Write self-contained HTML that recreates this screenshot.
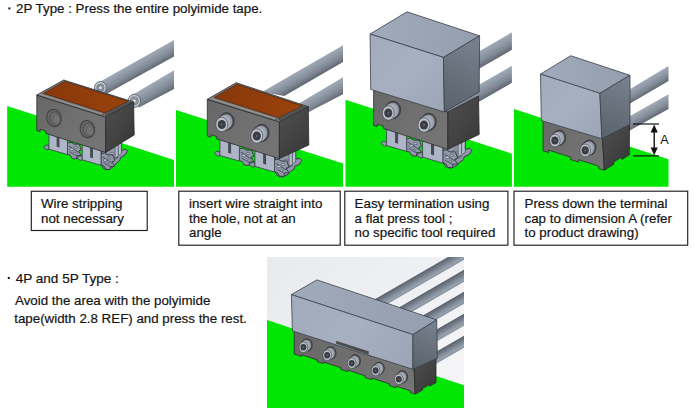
<!DOCTYPE html>
<html><head><meta charset="utf-8"><title>Wire termination</title>
<style>
html,body{margin:0;padding:0;background:#fff;}
body{width:694px;height:408px;overflow:hidden;font-family:"Liberation Sans",sans-serif;}
svg{display:block;font-family:"Liberation Sans",sans-serif;}
</style></head><body>
<svg width="694" height="408" viewBox="0 0 694 408">
<defs><linearGradient id="g1" gradientUnits="userSpaceOnUse" x1="174.0" y1="39.9" x2="181.1" y2="52.5"><stop offset="0" stop-color="#a0a9b5"/><stop offset="0.3" stop-color="#929ba8"/><stop offset="0.65" stop-color="#7f8894"/><stop offset="1" stop-color="#606872"/></linearGradient><linearGradient id="g2" gradientUnits="userSpaceOnUse" x1="174.0" y1="70.3" x2="182.2" y2="84.1"><stop offset="0" stop-color="#a0a9b5"/><stop offset="0.3" stop-color="#929ba8"/><stop offset="0.65" stop-color="#7f8894"/><stop offset="1" stop-color="#606872"/></linearGradient><linearGradient id="g3" gradientUnits="userSpaceOnUse" x1="36.8" y1="95.0" x2="105.7" y2="152.5"><stop offset="0" stop-color="#676767"/><stop offset="0.5" stop-color="#707070"/><stop offset="1" stop-color="#757575"/></linearGradient><linearGradient id="g4" gradientUnits="userSpaceOnUse" x1="105.7" y1="117.0" x2="134.2" y2="135.0"><stop offset="0" stop-color="#4b4b4b"/><stop offset="0.6" stop-color="#424242"/><stop offset="1" stop-color="#3a3a3a"/></linearGradient><linearGradient id="g5" gradientUnits="userSpaceOnUse" x1="36.8" y1="95.0" x2="133.6" y2="102.0"><stop offset="0" stop-color="#86370a"/><stop offset="0.5" stop-color="#913d0b"/><stop offset="1" stop-color="#9a430e"/></linearGradient><linearGradient id="g6" gradientUnits="userSpaceOnUse" x1="343.0" y1="45.2" x2="350.2" y2="57.7"><stop offset="0" stop-color="#a0a9b5"/><stop offset="0.3" stop-color="#929ba8"/><stop offset="0.65" stop-color="#7f8894"/><stop offset="1" stop-color="#606872"/></linearGradient><linearGradient id="g7" gradientUnits="userSpaceOnUse" x1="343.0" y1="77.3" x2="350.4" y2="89.8"><stop offset="0" stop-color="#a0a9b5"/><stop offset="0.3" stop-color="#929ba8"/><stop offset="0.65" stop-color="#7f8894"/><stop offset="1" stop-color="#606872"/></linearGradient><linearGradient id="g8" gradientUnits="userSpaceOnUse" x1="207.3" y1="99.3" x2="279.4" y2="158.6"><stop offset="0" stop-color="#676767"/><stop offset="0.5" stop-color="#707070"/><stop offset="1" stop-color="#757575"/></linearGradient><linearGradient id="g9" gradientUnits="userSpaceOnUse" x1="279.4" y1="121.9" x2="308.8" y2="145.0"><stop offset="0" stop-color="#4b4b4b"/><stop offset="0.6" stop-color="#424242"/><stop offset="1" stop-color="#3a3a3a"/></linearGradient><linearGradient id="g10" gradientUnits="userSpaceOnUse" x1="207.3" y1="99.3" x2="308.3" y2="106.7"><stop offset="0" stop-color="#86370a"/><stop offset="0.5" stop-color="#913d0b"/><stop offset="1" stop-color="#9a430e"/></linearGradient><linearGradient id="g11" gradientUnits="userSpaceOnUse" x1="511.9" y1="32.3" x2="519.5" y2="45.4"><stop offset="0" stop-color="#a0a9b5"/><stop offset="0.3" stop-color="#929ba8"/><stop offset="0.65" stop-color="#7f8894"/><stop offset="1" stop-color="#606872"/></linearGradient><linearGradient id="g12" gradientUnits="userSpaceOnUse" x1="511.9" y1="65.8" x2="519.2" y2="78.6"><stop offset="0" stop-color="#a0a9b5"/><stop offset="0.3" stop-color="#929ba8"/><stop offset="0.65" stop-color="#7f8894"/><stop offset="1" stop-color="#606872"/></linearGradient><linearGradient id="g13" gradientUnits="userSpaceOnUse" x1="373.6" y1="88.0" x2="447.8" y2="149.3"><stop offset="0" stop-color="#676767"/><stop offset="0.5" stop-color="#707070"/><stop offset="1" stop-color="#757575"/></linearGradient><linearGradient id="g14" gradientUnits="userSpaceOnUse" x1="447.8" y1="112.0" x2="479.2" y2="134.4"><stop offset="0" stop-color="#4b4b4b"/><stop offset="0.6" stop-color="#424242"/><stop offset="1" stop-color="#3a3a3a"/></linearGradient><linearGradient id="g15" gradientUnits="userSpaceOnUse" x1="370.1" y1="34.0" x2="479.6" y2="35.8"><stop offset="0" stop-color="#a0aaba"/><stop offset="1" stop-color="#949eaf"/></linearGradient><linearGradient id="g16" gradientUnits="userSpaceOnUse" x1="370.1" y1="34.0" x2="444.4" y2="112.0"><stop offset="0" stop-color="#a1abbb"/><stop offset="0.5" stop-color="#a6b0c0"/><stop offset="1" stop-color="#9ba5b5"/></linearGradient><linearGradient id="g17" gradientUnits="userSpaceOnUse" x1="444.4" y1="112.0" x2="479.6" y2="35.8"><stop offset="0" stop-color="#5a626c"/><stop offset="0.5" stop-color="#69717d"/><stop offset="1" stop-color="#7a8390"/></linearGradient><linearGradient id="g18" gradientUnits="userSpaceOnUse" x1="668.5" y1="66.0" x2="675.1" y2="77.0"><stop offset="0" stop-color="#a0a9b5"/><stop offset="0.3" stop-color="#929ba8"/><stop offset="0.65" stop-color="#7f8894"/><stop offset="1" stop-color="#606872"/></linearGradient><linearGradient id="g19" gradientUnits="userSpaceOnUse" x1="668.5" y1="94.2" x2="674.8" y2="105.3"><stop offset="0" stop-color="#a0a9b5"/><stop offset="0.3" stop-color="#929ba8"/><stop offset="0.65" stop-color="#7f8894"/><stop offset="1" stop-color="#606872"/></linearGradient><linearGradient id="g20" gradientUnits="userSpaceOnUse" x1="543.0" y1="118.0" x2="604.3" y2="170.2"><stop offset="0" stop-color="#676767"/><stop offset="0.5" stop-color="#707070"/><stop offset="1" stop-color="#757575"/></linearGradient><linearGradient id="g21" gradientUnits="userSpaceOnUse" x1="602.5" y1="137.0" x2="629.3" y2="154.8"><stop offset="0" stop-color="#4b4b4b"/><stop offset="0.6" stop-color="#424242"/><stop offset="1" stop-color="#3a3a3a"/></linearGradient><linearGradient id="g22" gradientUnits="userSpaceOnUse" x1="540.5" y1="74.1" x2="630.0" y2="75.3"><stop offset="0" stop-color="#a0aaba"/><stop offset="1" stop-color="#949eaf"/></linearGradient><linearGradient id="g23" gradientUnits="userSpaceOnUse" x1="540.5" y1="74.1" x2="601.9" y2="138.8"><stop offset="0" stop-color="#a1abbb"/><stop offset="0.5" stop-color="#a6b0c0"/><stop offset="1" stop-color="#9ba5b5"/></linearGradient><linearGradient id="g24" gradientUnits="userSpaceOnUse" x1="601.9" y1="138.8" x2="630.0" y2="75.3"><stop offset="0" stop-color="#5a626c"/><stop offset="0.5" stop-color="#69717d"/><stop offset="1" stop-color="#7a8390"/></linearGradient><linearGradient id="g25" gradientUnits="userSpaceOnUse" x1="267.0" y1="257.0" x2="464.0" y2="408.0"><stop offset="0" stop-color="#e8eaee"/><stop offset="0.6" stop-color="#f0f1f4"/><stop offset="1" stop-color="#f7f7f9"/></linearGradient><linearGradient id="g26" gradientUnits="userSpaceOnUse" x1="464.0" y1="247.8" x2="469.2" y2="256.8"><stop offset="0" stop-color="#59616c"/><stop offset="0.4" stop-color="#78818d"/><stop offset="0.8" stop-color="#98a2af"/><stop offset="1" stop-color="#878f9b"/></linearGradient><linearGradient id="g27" gradientUnits="userSpaceOnUse" x1="464.0" y1="269.8" x2="469.2" y2="278.8"><stop offset="0" stop-color="#59616c"/><stop offset="0.4" stop-color="#78818d"/><stop offset="0.8" stop-color="#98a2af"/><stop offset="1" stop-color="#878f9b"/></linearGradient><linearGradient id="g28" gradientUnits="userSpaceOnUse" x1="464.0" y1="291.8" x2="469.2" y2="300.8"><stop offset="0" stop-color="#59616c"/><stop offset="0.4" stop-color="#78818d"/><stop offset="0.8" stop-color="#98a2af"/><stop offset="1" stop-color="#878f9b"/></linearGradient><linearGradient id="g29" gradientUnits="userSpaceOnUse" x1="464.0" y1="313.8" x2="469.2" y2="322.8"><stop offset="0" stop-color="#59616c"/><stop offset="0.4" stop-color="#78818d"/><stop offset="0.8" stop-color="#98a2af"/><stop offset="1" stop-color="#878f9b"/></linearGradient><linearGradient id="g30" gradientUnits="userSpaceOnUse" x1="464.0" y1="335.8" x2="469.2" y2="344.8"><stop offset="0" stop-color="#59616c"/><stop offset="0.4" stop-color="#78818d"/><stop offset="0.8" stop-color="#98a2af"/><stop offset="1" stop-color="#878f9b"/></linearGradient><linearGradient id="g31" gradientUnits="userSpaceOnUse" x1="294.2" y1="330.0" x2="415.2" y2="394.1"><stop offset="0" stop-color="#676767"/><stop offset="0.5" stop-color="#707070"/><stop offset="1" stop-color="#757575"/></linearGradient><linearGradient id="g32" gradientUnits="userSpaceOnUse" x1="414.0" y1="366.0" x2="436.0" y2="382.6"><stop offset="0" stop-color="#4b4b4b"/><stop offset="0.6" stop-color="#424242"/><stop offset="1" stop-color="#3a3a3a"/></linearGradient><linearGradient id="g33" gradientUnits="userSpaceOnUse" x1="291.4" y1="294.6" x2="436.7" y2="319.9"><stop offset="0" stop-color="#a0aaba"/><stop offset="1" stop-color="#949eaf"/></linearGradient><linearGradient id="g34" gradientUnits="userSpaceOnUse" x1="291.4" y1="294.6" x2="412.9" y2="369.3"><stop offset="0" stop-color="#a1abbb"/><stop offset="0.5" stop-color="#a6b0c0"/><stop offset="1" stop-color="#9ba5b5"/></linearGradient><linearGradient id="g35" gradientUnits="userSpaceOnUse" x1="412.9" y1="369.3" x2="436.7" y2="319.9"><stop offset="0" stop-color="#5a626c"/><stop offset="0.5" stop-color="#69717d"/><stop offset="1" stop-color="#7a8390"/></linearGradient></defs>
<polygon points="7.2,106.0 174.0,160.0 174.0,186.7 7.2,186.7" fill="#01e703"/>
<polygon points="95.9,84.0 174.0,39.9 174.0,56.5 106.7,93.8" fill="url(#g1)"/>
<polygon points="129.2,96.8 174.0,70.3 174.0,88.9 139.0,107.5" fill="url(#g2)"/>
<ellipse cx="100.4" cy="87.8" rx="6.00" ry="6.30" fill="#bec6d2" stroke="#4a4e56" stroke-width="0.7"/>
<ellipse cx="100.4" cy="87.8" rx="3.72" ry="3.84" fill="#9098a6" stroke="#5a5e66" stroke-width="0.5"/>
<ellipse cx="100.4" cy="87.8" rx="1.80" ry="1.80" fill="#dde1e8" stroke="#50545c" stroke-width="0.4"/>
<ellipse cx="134.3" cy="100.9" rx="6.30" ry="6.62" fill="#bec6d2" stroke="#4a4e56" stroke-width="0.7"/>
<ellipse cx="134.3" cy="100.9" rx="3.91" ry="4.03" fill="#9098a6" stroke="#5a5e66" stroke-width="0.5"/>
<ellipse cx="134.3" cy="100.9" rx="1.89" ry="1.89" fill="#dde1e8" stroke="#50545c" stroke-width="0.4"/>
<polygon points="101.6,148.2 105.7,149.5 121.4,139.9 121.7,150.6 125.6,149.0 127.4,150.8 125.1,155.0 120.5,157.5 119.9,160.3 116.0,163.4 114.2,166.2 109.1,169.4 105.7,169.7 103.6,168.5 101.6,165.2" fill="#8f97a8" stroke="#3a3e48" stroke-width="1.0" stroke-linejoin="round"/>
<polygon points="115.1,143.7 121.4,139.9 121.4,153.4 115.1,158.3" fill="#b6bece" stroke="#3a3e48" stroke-width="0.6" stroke-linejoin="round"/>
<line x1="118.2" y1="142.8" x2="118.2" y2="155.0" stroke="#4a505c" stroke-width="0.9"/>
<line x1="106.3" y1="157.4" x2="114.2" y2="158.1" stroke="#3a3e48" stroke-width="0.8"/>
<line x1="107.1" y1="164.8" x2="118.5" y2="156.9" stroke="#3a3e48" stroke-width="0.8"/>
<ellipse cx="110.0" cy="158.7" rx="2.01" ry="1.31" fill="#c4ccda" stroke="#3a3e48" stroke-width="0.6"/>
<ellipse cx="112.0" cy="153.6" rx="1.81" ry="1.10" fill="#c4ccda" stroke="#3a3e48" stroke-width="0.6"/>
<ellipse cx="109.7" cy="165.2" rx="1.61" ry="1.00" fill="#c0c8d6" stroke="#3a3e48" stroke-width="0.6"/>
<polygon points="67.5,142.9 70.9,142.3 74.4,144.2 79.2,144.0 81.2,150.0 78.5,151.2 81.2,155.2 77.1,155.7 76.4,159.0 72.3,158.5 70.2,155.2 67.5,154.0" fill="#8f97a8" stroke="#3a3e48" stroke-width="1.0" stroke-linejoin="round"/>
<line x1="68.8" y1="146.0" x2="78.5" y2="152.6" stroke="#3a3e48" stroke-width="0.8"/>
<line x1="69.5" y1="151.8" x2="77.1" y2="156.0" stroke="#3a3e48" stroke-width="0.7"/>
<ellipse cx="71.6" cy="149.3" rx="1.91" ry="1.21" fill="#c4ccda" stroke="#3a3e48" stroke-width="0.6"/>
<ellipse cx="75.7" cy="147.3" rx="1.61" ry="1.00" fill="#c4ccda" stroke="#3a3e48" stroke-width="0.6"/>
<ellipse cx="74.4" cy="153.4" rx="1.41" ry="0.90" fill="#c0c8d6" stroke="#3a3e48" stroke-width="0.6"/>
<polygon points="48.9,145.2 45.1,145.4 43.7,147.5 46.8,149.9 48.9,149.5" fill="#8f97a8" stroke="#3a3e48" stroke-width="0.8" stroke-linejoin="round"/>
<polygon points="48.9,131.3 67.5,137.3 67.5,154.6 48.9,149.2" fill="#adb5c7" stroke="#3a3e48" stroke-width="0.8" stroke-linejoin="round"/>
<polygon points="56.6,135.8 59.5,136.8 59.5,147.6 56.6,146.7" fill="#484c56"/>
<polygon points="101.0,153.6 104.5,153.0 107.9,155.0 112.7,154.7 114.8,160.7 112.0,161.9 114.8,166.0 110.7,166.4 110.0,169.7 105.8,169.2 103.8,165.9 101.0,164.7" fill="#8f97a8" stroke="#3a3e48" stroke-width="1.0" stroke-linejoin="round"/>
<line x1="102.4" y1="156.7" x2="112.0" y2="163.3" stroke="#3a3e48" stroke-width="0.8"/>
<line x1="103.1" y1="162.6" x2="110.7" y2="166.7" stroke="#3a3e48" stroke-width="0.7"/>
<ellipse cx="105.1" cy="160.1" rx="1.91" ry="1.21" fill="#c4ccda" stroke="#3a3e48" stroke-width="0.6"/>
<ellipse cx="109.3" cy="158.0" rx="1.61" ry="1.00" fill="#c4ccda" stroke="#3a3e48" stroke-width="0.6"/>
<ellipse cx="107.9" cy="164.1" rx="1.41" ry="0.90" fill="#c0c8d6" stroke="#3a3e48" stroke-width="0.6"/>
<polygon points="82.3,155.9 78.5,156.1 77.1,158.1 80.2,160.5 82.3,160.1" fill="#8f97a8" stroke="#3a3e48" stroke-width="0.8" stroke-linejoin="round"/>
<polygon points="82.3,142.0 101.0,148.0 101.0,165.3 82.3,159.9" fill="#adb5c7" stroke="#3a3e48" stroke-width="0.8" stroke-linejoin="round"/>
<polygon points="90.1,146.5 93.0,147.5 93.0,158.3 90.1,157.4" fill="#484c56"/>
<polygon points="36.8,95.0 105.7,117.0 105.7,152.5 45.8,133.4 45.8,131.0 40.2,129.2 40.2,131.6 36.8,130.5" fill="url(#g3)" stroke="#2c2c2c" stroke-width="0.8" stroke-linejoin="round"/>
<polygon points="105.7,117.0 133.6,102.0 134.2,135.0 105.7,152.5" fill="url(#g4)" stroke="#2a2a2a" stroke-width="0.8" stroke-linejoin="round"/>
<polygon points="36.8,95.0 63.7,80.0 133.6,102.0 105.7,117.0" fill="#7c7c7c" stroke="#2c2c2c" stroke-width="0.8" stroke-linejoin="round"/>
<line x1="38.7" y1="94.0" x2="102.8" y2="114.4" stroke="#9c9c9c" stroke-width="0.9"/>
<polygon points="43.5,93.4 64.5,81.4 127.9,101.2 105.0,112.9" fill="url(#g5)" stroke="#4a2008" stroke-width="0.7" stroke-linejoin="round"/>
<polygon points="104.7,114.3 128.5,102.1 131.5,102.5 106.7,115.9" fill="#585858" stroke="#2a2a2a" stroke-width="0.5" stroke-linejoin="round"/>
<line x1="100.9" y1="115.5" x2="103.9" y2="113.8" stroke="#2a2a2a" stroke-width="0.6"/>
<ellipse cx="54.0" cy="118.0" rx="7.30" ry="8.80" fill="#646464" stroke="#414141" stroke-width="1.0" transform="rotate(-12 54.0 118.0)"/>
<ellipse cx="55.3" cy="118.6" rx="5.40" ry="6.86" fill="#6b6b6b" stroke="#4a4a4a" stroke-width="0.8" transform="rotate(-12 55.3 118.6)"/>
<ellipse cx="56.6" cy="119.4" rx="3.50" ry="4.93" fill="#727272" stroke="#565656" stroke-width="0.6" transform="rotate(-12 56.6 119.4)"/>
<ellipse cx="87.4" cy="129.2" rx="7.30" ry="8.80" fill="#646464" stroke="#414141" stroke-width="1.0" transform="rotate(-12 87.4 129.2)"/>
<ellipse cx="88.7" cy="129.8" rx="5.40" ry="6.86" fill="#6b6b6b" stroke="#4a4a4a" stroke-width="0.8" transform="rotate(-12 88.7 129.8)"/>
<ellipse cx="90.0" cy="130.6" rx="3.50" ry="4.93" fill="#727272" stroke="#565656" stroke-width="0.6" transform="rotate(-12 90.0 130.6)"/>
<polygon points="176.0,110.0 343.0,163.5 343.0,186.7 176.0,186.7" fill="#01e703"/>
<polygon points="262.0,92.0 343.0,45.2 343.0,61.9 284.3,96.0" fill="url(#g6)"/>
<polygon points="298.0,104.0 343.0,77.3 343.0,94.2 308.8,112.0" fill="url(#g7)"/>
<polygon points="275.1,154.2 279.4,155.6 295.6,148.1 295.9,159.2 300.0,158.3 301.7,160.4 299.4,164.4 294.7,166.2 294.1,169.1 290.0,171.7 288.2,174.4 282.9,176.8 279.4,176.6 277.2,175.4 275.1,171.9" fill="#8f97a8" stroke="#3a3e48" stroke-width="1.0" stroke-linejoin="round"/>
<polygon points="289.1,151.1 295.6,148.1 295.6,162.1 289.1,166.2" fill="#b6bece" stroke="#3a3e48" stroke-width="0.6" stroke-linejoin="round"/>
<line x1="292.3" y1="150.6" x2="292.3" y2="163.3" stroke="#4a505c" stroke-width="0.9"/>
<line x1="280.0" y1="163.8" x2="288.2" y2="165.9" stroke="#3a3e48" stroke-width="0.8"/>
<line x1="280.9" y1="171.7" x2="292.6" y2="165.3" stroke="#3a3e48" stroke-width="0.8"/>
<ellipse cx="283.8" cy="165.7" rx="2.10" ry="1.36" fill="#c4ccda" stroke="#3a3e48" stroke-width="0.6"/>
<ellipse cx="285.9" cy="160.8" rx="1.89" ry="1.15" fill="#c4ccda" stroke="#3a3e48" stroke-width="0.6"/>
<ellipse cx="283.5" cy="172.5" rx="1.68" ry="1.05" fill="#c0c8d6" stroke="#3a3e48" stroke-width="0.6"/>
<polygon points="239.4,148.8 243.0,148.1 246.6,150.2 251.6,149.9 253.8,156.1 250.9,157.4 253.8,161.6 249.5,162.1 248.8,165.5 244.4,165.1 242.3,161.7 239.4,160.4" fill="#8f97a8" stroke="#3a3e48" stroke-width="1.0" stroke-linejoin="round"/>
<line x1="240.8" y1="152.0" x2="250.9" y2="158.9" stroke="#3a3e48" stroke-width="0.8"/>
<line x1="241.5" y1="158.1" x2="249.5" y2="162.4" stroke="#3a3e48" stroke-width="0.7"/>
<ellipse cx="243.7" cy="155.5" rx="1.99" ry="1.26" fill="#c4ccda" stroke="#3a3e48" stroke-width="0.6"/>
<ellipse cx="248.0" cy="153.4" rx="1.68" ry="1.05" fill="#c4ccda" stroke="#3a3e48" stroke-width="0.6"/>
<ellipse cx="246.6" cy="159.7" rx="1.47" ry="0.94" fill="#c0c8d6" stroke="#3a3e48" stroke-width="0.6"/>
<polygon points="219.9,151.3 216.0,151.6 214.5,153.7 217.8,156.2 219.9,155.7" fill="#8f97a8" stroke="#3a3e48" stroke-width="0.8" stroke-linejoin="round"/>
<polygon points="219.9,137.0 239.4,143.1 239.4,161.0 219.9,155.5" fill="#adb5c7" stroke="#3a3e48" stroke-width="0.8" stroke-linejoin="round"/>
<polygon points="228.1,141.5 231.1,142.5 231.1,153.7 228.1,152.8" fill="#484c56"/>
<polygon points="274.5,159.8 278.1,159.1 281.7,161.2 286.8,160.9 288.9,167.1 286.0,168.4 288.9,172.6 284.6,173.1 283.9,176.5 279.5,176.1 277.4,172.7 274.5,171.4" fill="#8f97a8" stroke="#3a3e48" stroke-width="1.0" stroke-linejoin="round"/>
<line x1="275.9" y1="163.0" x2="286.0" y2="169.9" stroke="#3a3e48" stroke-width="0.8"/>
<line x1="276.7" y1="169.1" x2="284.6" y2="173.5" stroke="#3a3e48" stroke-width="0.7"/>
<ellipse cx="278.8" cy="166.5" rx="1.99" ry="1.26" fill="#c4ccda" stroke="#3a3e48" stroke-width="0.6"/>
<ellipse cx="283.1" cy="164.4" rx="1.68" ry="1.05" fill="#c4ccda" stroke="#3a3e48" stroke-width="0.6"/>
<ellipse cx="281.7" cy="170.7" rx="1.47" ry="0.94" fill="#c0c8d6" stroke="#3a3e48" stroke-width="0.6"/>
<polygon points="254.9,162.3 250.9,162.5 249.5,164.6 252.7,167.1 254.9,166.7" fill="#8f97a8" stroke="#3a3e48" stroke-width="0.8" stroke-linejoin="round"/>
<polygon points="254.9,147.9 274.5,154.1 274.5,172.0 254.9,166.4" fill="#adb5c7" stroke="#3a3e48" stroke-width="0.8" stroke-linejoin="round"/>
<polygon points="263.1,152.5 266.1,153.4 266.1,164.7 263.1,163.8" fill="#484c56"/>
<polygon points="207.3,99.3 279.4,121.9 279.4,158.6 216.7,138.9 216.7,136.5 210.9,134.7 210.9,137.1 207.3,136.0" fill="url(#g8)" stroke="#2c2c2c" stroke-width="0.8" stroke-linejoin="round"/>
<polygon points="279.4,121.9 308.3,106.7 308.8,145.0 279.4,158.6" fill="url(#g9)" stroke="#2a2a2a" stroke-width="0.8" stroke-linejoin="round"/>
<polygon points="207.3,99.3 236.2,82.7 308.3,106.7 279.4,121.9" fill="#7c7c7c" stroke="#2c2c2c" stroke-width="0.8" stroke-linejoin="round"/>
<line x1="209.3" y1="98.1" x2="276.4" y2="119.2" stroke="#9c9c9c" stroke-width="0.9"/>
<polygon points="214.4,97.4 236.9,84.2 302.5,105.8 278.6,117.8" fill="url(#g10)" stroke="#4a2008" stroke-width="0.7" stroke-linejoin="round"/>
<polygon points="278.3,119.1 303.0,106.7 306.1,107.2 280.4,120.8" fill="#585858" stroke="#2a2a2a" stroke-width="0.5" stroke-linejoin="round"/>
<line x1="274.4" y1="120.3" x2="277.5" y2="118.6" stroke="#2a2a2a" stroke-width="0.6"/>
<ellipse cx="226.6" cy="121.4" rx="7.60" ry="8.80" fill="#4a4a4a" stroke="#303030" stroke-width="0.6"/>
<ellipse cx="223.3" cy="123.5" rx="7.00" ry="8.20" fill="#444"/>
<ellipse cx="226.8" cy="121.2" rx="6.00" ry="7.20" fill="#8a909c" stroke="#3c4048" stroke-width="0.6"/>
<ellipse cx="226.2" cy="121.6" rx="6.00" ry="7.20" fill="#9097a3"/>
<ellipse cx="225.6" cy="122.0" rx="6.00" ry="7.20" fill="#979eaa"/>
<ellipse cx="224.9" cy="122.4" rx="6.00" ry="7.20" fill="#9da4b0"/>
<ellipse cx="224.3" cy="122.8" rx="6.00" ry="7.20" fill="#a3aab6"/>
<ellipse cx="223.7" cy="123.3" rx="6.00" ry="7.20" fill="#a8afbb"/>
<ellipse cx="223.1" cy="123.7" rx="6.00" ry="7.20" fill="#a8afbb"/>
<ellipse cx="222.4" cy="124.1" rx="6.00" ry="7.20" fill="#a3aab6"/>
<ellipse cx="221.8" cy="124.5" rx="6.00" ry="7.20" fill="#bcc1cb" stroke="#3c4048" stroke-width="0.6"/>
<ellipse cx="221.8" cy="124.5" rx="4.08" ry="4.61" fill="#3a3d44"/>
<ellipse cx="221.8" cy="124.5" rx="0.90" ry="1.08" fill="#6a6f79"/>
<ellipse cx="261.6" cy="132.9" rx="7.60" ry="8.80" fill="#4a4a4a" stroke="#303030" stroke-width="0.6"/>
<ellipse cx="258.3" cy="135.0" rx="7.00" ry="8.20" fill="#444"/>
<ellipse cx="261.8" cy="132.7" rx="6.00" ry="7.20" fill="#8a909c" stroke="#3c4048" stroke-width="0.6"/>
<ellipse cx="261.2" cy="133.1" rx="6.00" ry="7.20" fill="#9097a3"/>
<ellipse cx="260.6" cy="133.5" rx="6.00" ry="7.20" fill="#979eaa"/>
<ellipse cx="259.9" cy="133.9" rx="6.00" ry="7.20" fill="#9da4b0"/>
<ellipse cx="259.3" cy="134.3" rx="6.00" ry="7.20" fill="#a3aab6"/>
<ellipse cx="258.7" cy="134.8" rx="6.00" ry="7.20" fill="#a8afbb"/>
<ellipse cx="258.1" cy="135.2" rx="6.00" ry="7.20" fill="#a8afbb"/>
<ellipse cx="257.4" cy="135.6" rx="6.00" ry="7.20" fill="#a3aab6"/>
<ellipse cx="256.8" cy="136.0" rx="6.00" ry="7.20" fill="#bcc1cb" stroke="#3c4048" stroke-width="0.6"/>
<ellipse cx="256.8" cy="136.0" rx="4.08" ry="4.61" fill="#3a3d44"/>
<ellipse cx="256.8" cy="136.0" rx="0.90" ry="1.08" fill="#6a6f79"/>
<polygon points="345.5,99.8 511.9,153.7 511.9,186.7 345.5,186.7" fill="#01e703"/>
<polygon points="440.0,74.0 511.9,32.3 511.9,49.8 440.0,91.0" fill="url(#g11)"/>
<polygon points="440.0,107.0 511.9,65.8 511.9,82.8 440.0,124.0" fill="url(#g12)"/>
<polygon points="443.3,144.9 447.8,146.3 465.1,138.1 465.4,149.5 469.8,148.3 471.7,150.5 469.2,154.7 464.1,156.7 463.5,159.7 459.1,162.5 457.2,165.3 451.6,168.0 447.8,167.9 445.6,166.6 443.3,163.0" fill="#8f97a8" stroke="#3a3e48" stroke-width="1.0" stroke-linejoin="round"/>
<polygon points="458.2,141.4 465.1,138.1 465.1,152.5 458.2,156.9" fill="#b6bece" stroke="#3a3e48" stroke-width="0.6" stroke-linejoin="round"/>
<line x1="461.6" y1="140.7" x2="461.6" y2="153.7" stroke="#4a505c" stroke-width="0.9"/>
<line x1="448.4" y1="154.7" x2="457.2" y2="156.6" stroke="#3a3e48" stroke-width="0.8"/>
<line x1="449.4" y1="162.8" x2="461.9" y2="155.9" stroke="#3a3e48" stroke-width="0.8"/>
<ellipse cx="452.5" cy="156.5" rx="2.17" ry="1.41" fill="#c4ccda" stroke="#3a3e48" stroke-width="0.6"/>
<ellipse cx="454.7" cy="151.3" rx="1.95" ry="1.19" fill="#c4ccda" stroke="#3a3e48" stroke-width="0.6"/>
<ellipse cx="452.2" cy="163.5" rx="1.73" ry="1.08" fill="#c0c8d6" stroke="#3a3e48" stroke-width="0.6"/>
<polygon points="406.6,138.8 410.3,138.1 414.0,140.3 419.2,140.1 421.5,146.5 418.5,147.8 421.5,152.2 417.0,152.6 416.3,156.2 411.8,155.7 409.6,152.1 406.6,150.8" fill="#8f97a8" stroke="#3a3e48" stroke-width="1.0" stroke-linejoin="round"/>
<line x1="408.1" y1="142.1" x2="418.5" y2="149.3" stroke="#3a3e48" stroke-width="0.8"/>
<line x1="408.8" y1="148.5" x2="417.0" y2="153.0" stroke="#3a3e48" stroke-width="0.7"/>
<ellipse cx="411.1" cy="145.8" rx="2.06" ry="1.30" fill="#c4ccda" stroke="#3a3e48" stroke-width="0.6"/>
<ellipse cx="415.5" cy="143.6" rx="1.73" ry="1.08" fill="#c4ccda" stroke="#3a3e48" stroke-width="0.6"/>
<ellipse cx="414.0" cy="150.1" rx="1.52" ry="0.97" fill="#c0c8d6" stroke="#3a3e48" stroke-width="0.6"/>
<polygon points="386.6,141.3 382.5,141.4 381.0,143.6 384.4,146.2 386.6,145.8" fill="#8f97a8" stroke="#3a3e48" stroke-width="0.8" stroke-linejoin="round"/>
<polygon points="386.6,126.5 406.6,133.0 406.6,151.4 386.6,145.5" fill="#adb5c7" stroke="#3a3e48" stroke-width="0.8" stroke-linejoin="round"/>
<polygon points="395.0,131.2 398.1,132.2 398.1,143.8 395.0,142.8" fill="#484c56"/>
<polygon points="442.8,150.5 446.5,149.8 450.2,152.0 455.4,151.7 457.6,158.2 454.6,159.5 457.6,163.8 453.1,164.3 452.4,167.8 447.9,167.4 445.7,163.8 442.8,162.5" fill="#8f97a8" stroke="#3a3e48" stroke-width="1.0" stroke-linejoin="round"/>
<line x1="444.2" y1="153.8" x2="454.6" y2="161.0" stroke="#3a3e48" stroke-width="0.8"/>
<line x1="445.0" y1="160.1" x2="453.1" y2="164.7" stroke="#3a3e48" stroke-width="0.7"/>
<ellipse cx="447.2" cy="157.4" rx="2.06" ry="1.30" fill="#c4ccda" stroke="#3a3e48" stroke-width="0.6"/>
<ellipse cx="451.7" cy="155.3" rx="1.73" ry="1.08" fill="#c4ccda" stroke="#3a3e48" stroke-width="0.6"/>
<ellipse cx="450.2" cy="161.8" rx="1.52" ry="0.97" fill="#c0c8d6" stroke="#3a3e48" stroke-width="0.6"/>
<polygon points="422.6,152.9 418.5,153.1 417.0,155.3 420.3,157.9 422.6,157.4" fill="#8f97a8" stroke="#3a3e48" stroke-width="0.8" stroke-linejoin="round"/>
<polygon points="422.6,138.1 442.8,144.7 442.8,163.1 422.6,157.2" fill="#adb5c7" stroke="#3a3e48" stroke-width="0.8" stroke-linejoin="round"/>
<polygon points="431.0,142.9 434.1,143.9 434.1,155.5 431.0,154.5" fill="#484c56"/>
<polygon points="373.6,88.0 447.8,112.0 447.8,149.3 383.2,128.4 383.2,126.0 377.3,124.1 377.3,126.5 373.6,125.3" fill="url(#g13)" stroke="#2c2c2c" stroke-width="0.8" stroke-linejoin="round"/>
<polygon points="447.8,112.0 478.5,96.0 479.2,134.4 447.8,149.3" fill="url(#g14)" stroke="#2a2a2a" stroke-width="0.8" stroke-linejoin="round"/>
<ellipse cx="393.1" cy="109.9" rx="7.60" ry="8.80" fill="#4a4a4a" stroke="#303030" stroke-width="0.6"/>
<ellipse cx="389.8" cy="112.0" rx="7.00" ry="8.20" fill="#444"/>
<ellipse cx="393.3" cy="109.7" rx="6.00" ry="7.20" fill="#8a909c" stroke="#3c4048" stroke-width="0.6"/>
<ellipse cx="392.7" cy="110.1" rx="6.00" ry="7.20" fill="#9097a3"/>
<ellipse cx="392.1" cy="110.5" rx="6.00" ry="7.20" fill="#979eaa"/>
<ellipse cx="391.4" cy="110.9" rx="6.00" ry="7.20" fill="#9da4b0"/>
<ellipse cx="390.8" cy="111.3" rx="6.00" ry="7.20" fill="#a3aab6"/>
<ellipse cx="390.2" cy="111.8" rx="6.00" ry="7.20" fill="#a8afbb"/>
<ellipse cx="389.6" cy="112.2" rx="6.00" ry="7.20" fill="#a8afbb"/>
<ellipse cx="388.9" cy="112.6" rx="6.00" ry="7.20" fill="#a3aab6"/>
<ellipse cx="388.3" cy="113.0" rx="6.00" ry="7.20" fill="#bcc1cb" stroke="#3c4048" stroke-width="0.6"/>
<ellipse cx="388.3" cy="113.0" rx="4.08" ry="4.61" fill="#3a3d44"/>
<ellipse cx="388.3" cy="113.0" rx="0.90" ry="1.08" fill="#6a6f79"/>
<ellipse cx="428.8" cy="121.9" rx="7.60" ry="8.80" fill="#4a4a4a" stroke="#303030" stroke-width="0.6"/>
<ellipse cx="425.5" cy="124.0" rx="7.00" ry="8.20" fill="#444"/>
<ellipse cx="429.0" cy="121.7" rx="6.00" ry="7.20" fill="#8a909c" stroke="#3c4048" stroke-width="0.6"/>
<ellipse cx="428.4" cy="122.1" rx="6.00" ry="7.20" fill="#9097a3"/>
<ellipse cx="427.8" cy="122.5" rx="6.00" ry="7.20" fill="#979eaa"/>
<ellipse cx="427.1" cy="122.9" rx="6.00" ry="7.20" fill="#9da4b0"/>
<ellipse cx="426.5" cy="123.3" rx="6.00" ry="7.20" fill="#a3aab6"/>
<ellipse cx="425.9" cy="123.8" rx="6.00" ry="7.20" fill="#a8afbb"/>
<ellipse cx="425.2" cy="124.2" rx="6.00" ry="7.20" fill="#a8afbb"/>
<ellipse cx="424.6" cy="124.6" rx="6.00" ry="7.20" fill="#a3aab6"/>
<ellipse cx="424.0" cy="125.0" rx="6.00" ry="7.20" fill="#bcc1cb" stroke="#3c4048" stroke-width="0.6"/>
<ellipse cx="424.0" cy="125.0" rx="4.08" ry="4.61" fill="#3a3d44"/>
<ellipse cx="424.0" cy="125.0" rx="0.90" ry="1.08" fill="#6a6f79"/>
<polygon points="370.1,34.0 407.0,11.8 479.6,35.8 443.4,57.4" fill="url(#g15)" stroke="#39404a" stroke-width="0.8" stroke-linejoin="round"/>
<polygon points="370.1,34.0 443.4,57.4 444.4,112.0 370.7,89.4" fill="url(#g16)" stroke="#39404a" stroke-width="0.8" stroke-linejoin="round"/>
<polygon points="443.4,57.4 479.6,35.8 479.2,92.0 444.4,112.0" fill="url(#g17)" stroke="#39404a" stroke-width="0.8" stroke-linejoin="round"/>
<polygon points="514.0,108.9 668.5,159.3 668.5,186.7 514.0,186.7" fill="#01e703"/>
<polygon points="600.0,107.0 668.5,66.0 668.5,81.0 600.0,121.0" fill="url(#g18)"/>
<polygon points="600.0,133.0 668.5,94.2 668.5,108.9 600.0,147.0" fill="url(#g19)"/>
<polygon points="543.0,118.0 602.5,137.0 604.3,170.2 598.8,168.5 598.8,166.1 578.6,159.7 578.6,162.1 570.6,159.5 570.6,157.1 548.5,150.1 548.5,152.5 543.0,150.8" fill="url(#g20)" stroke="#2c2c2c" stroke-width="0.8" stroke-linejoin="round"/>
<polygon points="602.5,137.0 629.6,122.0 629.3,154.8 621.8,159.4 621.8,157.0 613.8,161.9 613.8,164.3 604.3,170.2" fill="url(#g21)" stroke="#2a2a2a" stroke-width="0.8" stroke-linejoin="round"/>
<ellipse cx="559.1" cy="137.7" rx="6.69" ry="7.74" fill="#4a4a4a" stroke="#303030" stroke-width="0.6"/>
<ellipse cx="556.2" cy="139.6" rx="6.16" ry="7.22" fill="#444"/>
<ellipse cx="559.3" cy="137.6" rx="5.28" ry="6.34" fill="#8a909c" stroke="#3c4048" stroke-width="0.6"/>
<ellipse cx="558.8" cy="138.0" rx="5.28" ry="6.34" fill="#9097a3"/>
<ellipse cx="558.2" cy="138.3" rx="5.28" ry="6.34" fill="#979eaa"/>
<ellipse cx="557.6" cy="138.7" rx="5.28" ry="6.34" fill="#9da4b0"/>
<ellipse cx="557.1" cy="139.0" rx="5.28" ry="6.34" fill="#a3aab6"/>
<ellipse cx="556.5" cy="139.4" rx="5.28" ry="6.34" fill="#a8afbb"/>
<ellipse cx="556.0" cy="139.8" rx="5.28" ry="6.34" fill="#a8afbb"/>
<ellipse cx="555.4" cy="140.1" rx="5.28" ry="6.34" fill="#a3aab6"/>
<ellipse cx="554.9" cy="140.5" rx="5.28" ry="6.34" fill="#bcc1cb" stroke="#3c4048" stroke-width="0.6"/>
<ellipse cx="554.9" cy="140.5" rx="3.59" ry="4.06" fill="#3a3d44"/>
<ellipse cx="554.9" cy="140.5" rx="0.79" ry="0.95" fill="#6a6f79"/>
<ellipse cx="589.4" cy="147.6" rx="6.69" ry="7.74" fill="#4a4a4a" stroke="#303030" stroke-width="0.6"/>
<ellipse cx="586.5" cy="149.5" rx="6.16" ry="7.22" fill="#444"/>
<ellipse cx="589.6" cy="147.5" rx="5.28" ry="6.34" fill="#8a909c" stroke="#3c4048" stroke-width="0.6"/>
<ellipse cx="589.1" cy="147.9" rx="5.28" ry="6.34" fill="#9097a3"/>
<ellipse cx="588.5" cy="148.2" rx="5.28" ry="6.34" fill="#979eaa"/>
<ellipse cx="588.0" cy="148.6" rx="5.28" ry="6.34" fill="#9da4b0"/>
<ellipse cx="587.4" cy="148.9" rx="5.28" ry="6.34" fill="#a3aab6"/>
<ellipse cx="586.9" cy="149.3" rx="5.28" ry="6.34" fill="#a8afbb"/>
<ellipse cx="586.3" cy="149.7" rx="5.28" ry="6.34" fill="#a8afbb"/>
<ellipse cx="585.8" cy="150.0" rx="5.28" ry="6.34" fill="#a3aab6"/>
<ellipse cx="585.2" cy="150.4" rx="5.28" ry="6.34" fill="#bcc1cb" stroke="#3c4048" stroke-width="0.6"/>
<ellipse cx="585.2" cy="150.4" rx="3.59" ry="4.06" fill="#3a3d44"/>
<ellipse cx="585.2" cy="150.4" rx="0.79" ry="0.95" fill="#6a6f79"/>
<polygon points="540.5,74.1 570.7,55.7 630.0,75.3 599.9,93.3" fill="url(#g22)" stroke="#39404a" stroke-width="0.8" stroke-linejoin="round"/>
<polygon points="540.5,74.1 599.9,93.3 601.9,138.8 541.3,120.5" fill="url(#g23)" stroke="#39404a" stroke-width="0.8" stroke-linejoin="round"/>
<polygon points="599.9,93.3 630.0,75.3 630.0,124.3 601.9,138.8" fill="url(#g24)" stroke="#39404a" stroke-width="0.8" stroke-linejoin="round"/>
<line x1="633.0" y1="124.0" x2="659.0" y2="124.0" stroke="#111" stroke-width="1.2"/>
<line x1="633.0" y1="155.9" x2="659.0" y2="155.9" stroke="#111" stroke-width="1.2"/>
<line x1="654.2" y1="128.0" x2="654.2" y2="152.0" stroke="#111" stroke-width="1.4"/>
<polygon points="654.2,124.6 650.6,132.5 657.8,132.5" fill="#111"/>
<polygon points="654.2,155.3 650.6,147.4 657.8,147.4" fill="#111"/>
<text x="660.3" y="143.8" font-size="12.6" fill="#111">A</text>
<rect x="267" y="257" width="197" height="151" fill="url(#g25)"/>
<clipPath id="c5"><rect x="267" y="257" width="197" height="151"/></clipPath>
<g clip-path="url(#c5)">
<polygon points="267.0,319.9 464.0,385.2 464.0,408.0 267.0,408.0" fill="#01e703"/>
<polygon points="374.0,299.7 464.0,247.8 464.0,259.8 374.0,311.7" fill="url(#g26)"/>
<polygon points="398.0,307.9 464.0,269.8 464.0,281.8 398.0,319.9" fill="url(#g27)"/>
<polygon points="422.0,316.0 464.0,291.8 464.0,303.8 422.0,328.0" fill="url(#g28)"/>
<polygon points="434.0,331.1 464.0,313.8 464.0,325.8 434.0,343.1" fill="url(#g29)"/>
<polygon points="434.0,353.1 464.0,335.8 464.0,347.8 434.0,365.1" fill="url(#g30)"/>
<polygon points="294.2,330.0 414.0,366.0 415.2,394.1 410.4,392.5 410.4,390.8 395.8,386.0 395.8,387.7 389.2,385.5 389.2,383.8 371.6,378.0 371.6,379.7 365.0,377.5 365.0,375.8 347.4,369.9 347.4,371.6 340.8,369.4 340.8,367.7 323.2,361.9 323.2,363.6 317.2,361.6 317.2,359.9 301.5,354.7 301.5,356.4 294.2,354.0" fill="url(#g31)" stroke="#2c2c2c" stroke-width="0.8" stroke-linejoin="round"/>
<polygon points="414.0,366.0 436.0,355.0 436.0,382.6 429.8,386.1 429.8,384.4 422.5,388.4 422.5,390.1 415.2,394.1" fill="url(#g32)" stroke="#2a2a2a" stroke-width="0.8" stroke-linejoin="round"/>
<ellipse cx="306.8" cy="345.0" rx="5.47" ry="6.34" fill="#4a4a4a" stroke="#303030" stroke-width="0.6"/>
<ellipse cx="304.5" cy="346.6" rx="5.04" ry="5.90" fill="#444"/>
<ellipse cx="307.0" cy="344.9" rx="4.32" ry="5.18" fill="#8a909c" stroke="#3c4048" stroke-width="0.6"/>
<ellipse cx="306.5" cy="345.2" rx="4.32" ry="5.18" fill="#9097a3"/>
<ellipse cx="306.1" cy="345.5" rx="4.32" ry="5.18" fill="#979eaa"/>
<ellipse cx="305.6" cy="345.8" rx="4.32" ry="5.18" fill="#9da4b0"/>
<ellipse cx="305.2" cy="346.1" rx="4.32" ry="5.18" fill="#a3aab6"/>
<ellipse cx="304.8" cy="346.4" rx="4.32" ry="5.18" fill="#a8afbb"/>
<ellipse cx="304.3" cy="346.7" rx="4.32" ry="5.18" fill="#a8afbb"/>
<ellipse cx="303.8" cy="347.0" rx="4.32" ry="5.18" fill="#a3aab6"/>
<ellipse cx="303.4" cy="347.3" rx="4.32" ry="5.18" fill="#bcc1cb" stroke="#3c4048" stroke-width="0.6"/>
<ellipse cx="303.4" cy="347.3" rx="2.94" ry="3.32" fill="#3a3d44"/>
<ellipse cx="303.4" cy="347.3" rx="0.65" ry="0.78" fill="#6a6f79"/>
<ellipse cx="330.6" cy="353.0" rx="5.47" ry="6.34" fill="#4a4a4a" stroke="#303030" stroke-width="0.6"/>
<ellipse cx="328.3" cy="354.6" rx="5.04" ry="5.90" fill="#444"/>
<ellipse cx="330.8" cy="352.9" rx="4.32" ry="5.18" fill="#8a909c" stroke="#3c4048" stroke-width="0.6"/>
<ellipse cx="330.3" cy="353.2" rx="4.32" ry="5.18" fill="#9097a3"/>
<ellipse cx="329.9" cy="353.5" rx="4.32" ry="5.18" fill="#979eaa"/>
<ellipse cx="329.4" cy="353.8" rx="4.32" ry="5.18" fill="#9da4b0"/>
<ellipse cx="329.0" cy="354.1" rx="4.32" ry="5.18" fill="#a3aab6"/>
<ellipse cx="328.6" cy="354.4" rx="4.32" ry="5.18" fill="#a8afbb"/>
<ellipse cx="328.1" cy="354.7" rx="4.32" ry="5.18" fill="#a8afbb"/>
<ellipse cx="327.6" cy="355.0" rx="4.32" ry="5.18" fill="#a3aab6"/>
<ellipse cx="327.2" cy="355.3" rx="4.32" ry="5.18" fill="#bcc1cb" stroke="#3c4048" stroke-width="0.6"/>
<ellipse cx="327.2" cy="355.3" rx="2.94" ry="3.32" fill="#3a3d44"/>
<ellipse cx="327.2" cy="355.3" rx="0.65" ry="0.78" fill="#6a6f79"/>
<ellipse cx="355.1" cy="360.9" rx="5.47" ry="6.34" fill="#4a4a4a" stroke="#303030" stroke-width="0.6"/>
<ellipse cx="352.8" cy="362.5" rx="5.04" ry="5.90" fill="#444"/>
<ellipse cx="355.3" cy="360.8" rx="4.32" ry="5.18" fill="#8a909c" stroke="#3c4048" stroke-width="0.6"/>
<ellipse cx="354.8" cy="361.1" rx="4.32" ry="5.18" fill="#9097a3"/>
<ellipse cx="354.4" cy="361.4" rx="4.32" ry="5.18" fill="#979eaa"/>
<ellipse cx="353.9" cy="361.7" rx="4.32" ry="5.18" fill="#9da4b0"/>
<ellipse cx="353.5" cy="362.0" rx="4.32" ry="5.18" fill="#a3aab6"/>
<ellipse cx="353.1" cy="362.3" rx="4.32" ry="5.18" fill="#a8afbb"/>
<ellipse cx="352.6" cy="362.6" rx="4.32" ry="5.18" fill="#a8afbb"/>
<ellipse cx="352.1" cy="362.9" rx="4.32" ry="5.18" fill="#a3aab6"/>
<ellipse cx="351.7" cy="363.2" rx="4.32" ry="5.18" fill="#bcc1cb" stroke="#3c4048" stroke-width="0.6"/>
<ellipse cx="351.7" cy="363.2" rx="2.94" ry="3.32" fill="#3a3d44"/>
<ellipse cx="351.7" cy="363.2" rx="0.65" ry="0.78" fill="#6a6f79"/>
<ellipse cx="379.0" cy="368.3" rx="5.47" ry="6.34" fill="#4a4a4a" stroke="#303030" stroke-width="0.6"/>
<ellipse cx="376.7" cy="369.9" rx="5.04" ry="5.90" fill="#444"/>
<ellipse cx="379.2" cy="368.2" rx="4.32" ry="5.18" fill="#8a909c" stroke="#3c4048" stroke-width="0.6"/>
<ellipse cx="378.8" cy="368.5" rx="4.32" ry="5.18" fill="#9097a3"/>
<ellipse cx="378.3" cy="368.8" rx="4.32" ry="5.18" fill="#979eaa"/>
<ellipse cx="377.9" cy="369.1" rx="4.32" ry="5.18" fill="#9da4b0"/>
<ellipse cx="377.4" cy="369.4" rx="4.32" ry="5.18" fill="#a3aab6"/>
<ellipse cx="377.0" cy="369.7" rx="4.32" ry="5.18" fill="#a8afbb"/>
<ellipse cx="376.5" cy="370.0" rx="4.32" ry="5.18" fill="#a8afbb"/>
<ellipse cx="376.1" cy="370.3" rx="4.32" ry="5.18" fill="#a3aab6"/>
<ellipse cx="375.6" cy="370.6" rx="4.32" ry="5.18" fill="#bcc1cb" stroke="#3c4048" stroke-width="0.6"/>
<ellipse cx="375.6" cy="370.6" rx="2.94" ry="3.32" fill="#3a3d44"/>
<ellipse cx="375.6" cy="370.6" rx="0.65" ry="0.78" fill="#6a6f79"/>
<ellipse cx="402.2" cy="376.9" rx="5.47" ry="6.34" fill="#4a4a4a" stroke="#303030" stroke-width="0.6"/>
<ellipse cx="399.9" cy="378.5" rx="5.04" ry="5.90" fill="#444"/>
<ellipse cx="402.4" cy="376.8" rx="4.32" ry="5.18" fill="#8a909c" stroke="#3c4048" stroke-width="0.6"/>
<ellipse cx="401.9" cy="377.1" rx="4.32" ry="5.18" fill="#9097a3"/>
<ellipse cx="401.5" cy="377.4" rx="4.32" ry="5.18" fill="#979eaa"/>
<ellipse cx="401.1" cy="377.7" rx="4.32" ry="5.18" fill="#9da4b0"/>
<ellipse cx="400.6" cy="378.0" rx="4.32" ry="5.18" fill="#a3aab6"/>
<ellipse cx="400.2" cy="378.3" rx="4.32" ry="5.18" fill="#a8afbb"/>
<ellipse cx="399.7" cy="378.6" rx="4.32" ry="5.18" fill="#a8afbb"/>
<ellipse cx="399.2" cy="378.9" rx="4.32" ry="5.18" fill="#a3aab6"/>
<ellipse cx="398.8" cy="379.2" rx="4.32" ry="5.18" fill="#bcc1cb" stroke="#3c4048" stroke-width="0.6"/>
<ellipse cx="398.8" cy="379.2" rx="2.94" ry="3.32" fill="#3a3d44"/>
<ellipse cx="398.8" cy="379.2" rx="0.65" ry="0.78" fill="#6a6f79"/>
<polygon points="291.4,294.6 316.9,279.9 436.7,319.9 412.9,334.6" fill="url(#g33)" stroke="#39404a" stroke-width="0.8" stroke-linejoin="round"/>
<polygon points="291.4,294.6 412.9,334.6 412.9,369.3 292.4,330.9" fill="url(#g34)" stroke="#39404a" stroke-width="0.8" stroke-linejoin="round"/>
<polygon points="412.9,334.6 436.7,319.9 437.4,358.2 412.9,369.3" fill="url(#g35)" stroke="#39404a" stroke-width="0.8" stroke-linejoin="round"/>
<polygon points="336.4,341.2 368.4,351.6 368.4,354.2 336.4,343.6" fill="#4c4c4c" stroke="#2c2c2c" stroke-width="0.4" stroke-linejoin="round"/>
</g>
<rect x="8.4" y="7.4" width="2" height="2" fill="#141414"/>
<text x="16.1" y="12.9" font-size="13.33" fill="#141414" stroke="#141414" stroke-width="0.2">2P Type : Press the entire polyimide tape.</text>
<rect x="31.3" y="191.3" width="115.89999999999999" height="39.19999999999999" fill="#fff" stroke="#1e1e1e" stroke-width="1.15"/>
<text x="41" y="207.5" font-size="13.33" fill="#141414" stroke="#141414" stroke-width="0.2">Wire stripping</text>
<text x="41" y="223.0" font-size="13.33" fill="#141414" stroke="#141414" stroke-width="0.2">not necessary</text>
<rect x="178.8" y="191.2" width="161.39999999999998" height="54.0" fill="#fff" stroke="#1e1e1e" stroke-width="1.15"/>
<text x="189" y="207.5" font-size="13.33" fill="#141414" stroke="#141414" stroke-width="0.2">insert wire straight into</text>
<text x="189" y="223.0" font-size="13.33" fill="#141414" stroke="#141414" stroke-width="0.2">the hole, not at an</text>
<text x="189" y="237.4" font-size="13.33" fill="#141414" stroke="#141414" stroke-width="0.2">angle</text>
<rect x="344.8" y="191.2" width="163.09999999999997" height="54.0" fill="#fff" stroke="#1e1e1e" stroke-width="1.15"/>
<text x="354.6" y="207.5" font-size="13.33" fill="#141414" stroke="#141414" stroke-width="0.2">Easy termination using</text>
<text x="354.6" y="223.0" font-size="13.33" fill="#141414" stroke="#141414" stroke-width="0.2">a flat press tool ;</text>
<text x="354.6" y="237.4" font-size="13.33" fill="#141414" stroke="#141414" stroke-width="0.2">no specific tool required</text>
<rect x="514.0" y="191.2" width="173.70000000000005" height="54.0" fill="#fff" stroke="#1e1e1e" stroke-width="1.15"/>
<text x="524.5" y="207.5" font-size="13.33" fill="#141414" stroke="#141414" stroke-width="0.2">Press down the terminal</text>
<text x="524.5" y="223.0" font-size="13.33" fill="#141414" stroke="#141414" stroke-width="0.2">cap to dimension A (refer</text>
<text x="524.5" y="237.4" font-size="13.33" fill="#141414" stroke="#141414" stroke-width="0.2">to product drawing)</text>
<rect x="7.8" y="277" width="2" height="2" fill="#141414"/>
<text x="15.7" y="282.6" font-size="13.55" fill="#141414" stroke="#141414" stroke-width="0.2">4P and 5P Type :</text>
<text x="15" y="305.0" font-size="13.33" fill="#141414" stroke="#141414" stroke-width="0.2">Avoid the area with the polyimide</text>
<text x="14.2" y="323.0" font-size="13.33" fill="#141414" stroke="#141414" stroke-width="0.2">tape(width 2.8 REF) and press the rest.</text>
</svg>
</body></html>
